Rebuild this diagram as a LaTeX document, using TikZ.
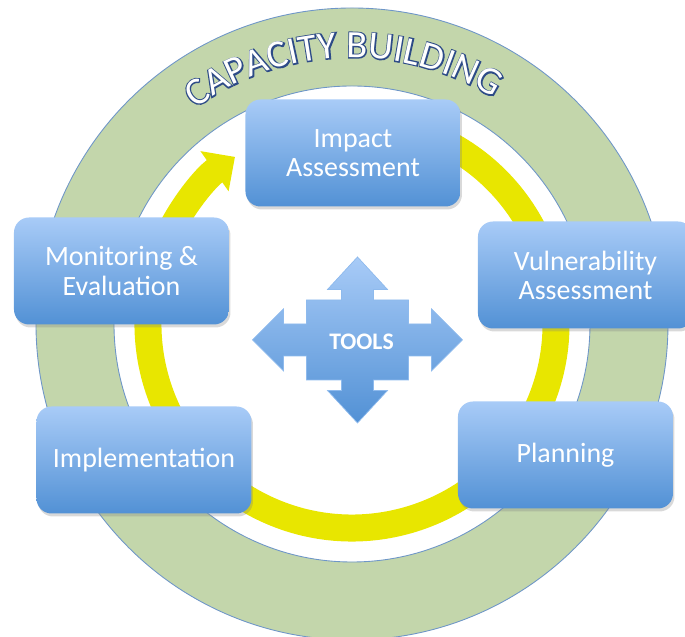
\documentclass[tikz,border=0pt]{standalone}
\usepackage{fontspec}
\setmainfont{Carlito}
\newfontfamily\capfill{Carlito}
\newfontfamily\capedge{Carlito}[FakeBold=6]
\usetikzlibrary{arrows.meta,calc,shadows,decorations.text}

\definecolor{ringgreen}{RGB}{195,214,171}
\definecolor{ringedge}{RGB}{110,150,200}
\definecolor{arrowyellow}{RGB}{232,230,0}
\definecolor{boxtop}{RGB}{168,203,247}
\definecolor{boxbottom}{RGB}{82,145,213}
\definecolor{letteredge}{RGB}{45,75,135}

\tikzset{
    stagebox/.style={rounded corners=0.3cm, top color=boxtop, bottom color=boxbottom,
        minimum width=4.3cm, minimum height=2.14cm, text=white, align=center,
        font=\fontsize{15.9}{16.6}\selectfont,
        drop shadow={opacity=0.3, shadow xshift=0.03cm, shadow yshift=-0.06cm}},
    toolsshape/.style={top color=boxtop, bottom color=boxbottom, draw=boxtop!70!boxbottom,
        line width=0.4pt},
}

\begin{document}
\begin{tikzpicture}
    \useasboundingbox (-7.04,-6.26) rectangle (6.66,6.48);
    %% Green ring
    \fill[ringgreen, even odd rule] (0,0) circle (6.32) (0,0) circle (4.76);
    \draw[ringedge, line width=0.5pt] (0,0) circle (6.32);
    \draw[ringedge, line width=0.5pt] (0,0) circle (4.76);
    %% Capacity building
    \path[decorate, decoration={text along path, text align=center, text color=letteredge,
        text={|\capedge\fontsize{22}{22}\selectfont|CAPACITY BUILDING}}] (133:5.33) arc (133:51:5.33);
    \path[decorate, decoration={text along path, text align=center, text color=white,
        text={|\capfill\fontsize{22}{22}\selectfont|CAPACITY BUILDING}}] (133:5.33) arc (133:51:5.33);
    %% Yellow cycle
    \draw[arrowyellow, line width=0.54cm, -{Triangle[length=0.5cm, width=0.95cm]}]
        (65:4.08) arc (65:-235:4.08);
    %% Stages
    \node[stagebox] (impact) at (0.02,3.42) {Impact\\Assessment};
    \node[stagebox] (vulner) at (4.67,0.98) {Vulnerability\\Assessment};
    \node[stagebox] (planning) at (4.27,-2.62) {Planning};
    \node[stagebox] (implem) at (-4.16,-2.72) {Implementation};
    \node[stagebox] (monitor) at (-4.61,1.06) {Monitoring \&\\Evaluation};
    %% Tools
    \begin{scope}[shift={(0.11,-0.32)}]
        \draw[toolsshape] (0,1.66) -- (0.6,1.01) -- (0.32,1.01) -- (0.32,0.8) -- (1.02,0.8)
            -- (1.02,0.32) -- (1.48,0.32) -- (1.48,0.62) -- (2.1,0) -- (1.48,-0.62)
            -- (1.48,-0.32) -- (1.02,-0.32) -- (1.02,-0.8) -- (0.32,-0.8) -- (0.32,-1.01)
            -- (0.6,-1.01) -- (0,-1.66) -- (-0.6,-1.01) -- (-0.32,-1.01) -- (-0.32,-0.8)
            -- (-1.02,-0.8) -- (-1.02,-0.32) -- (-1.48,-0.32) -- (-1.48,-0.62) -- (-2.1,0)
            -- (-1.48,0.62) -- (-1.48,0.32) -- (-1.02,0.32) -- (-1.02,0.8) -- (-0.32,0.8)
            -- (-0.32,1.01) -- (-0.6,1.01) -- cycle;
        \node[font=\bfseries\fontsize{13.5}{13.5}\selectfont, text=white] (tools) at (0.08,-0.04) {TOOLS};
    \end{scope}
\end{tikzpicture}
\end{document}
